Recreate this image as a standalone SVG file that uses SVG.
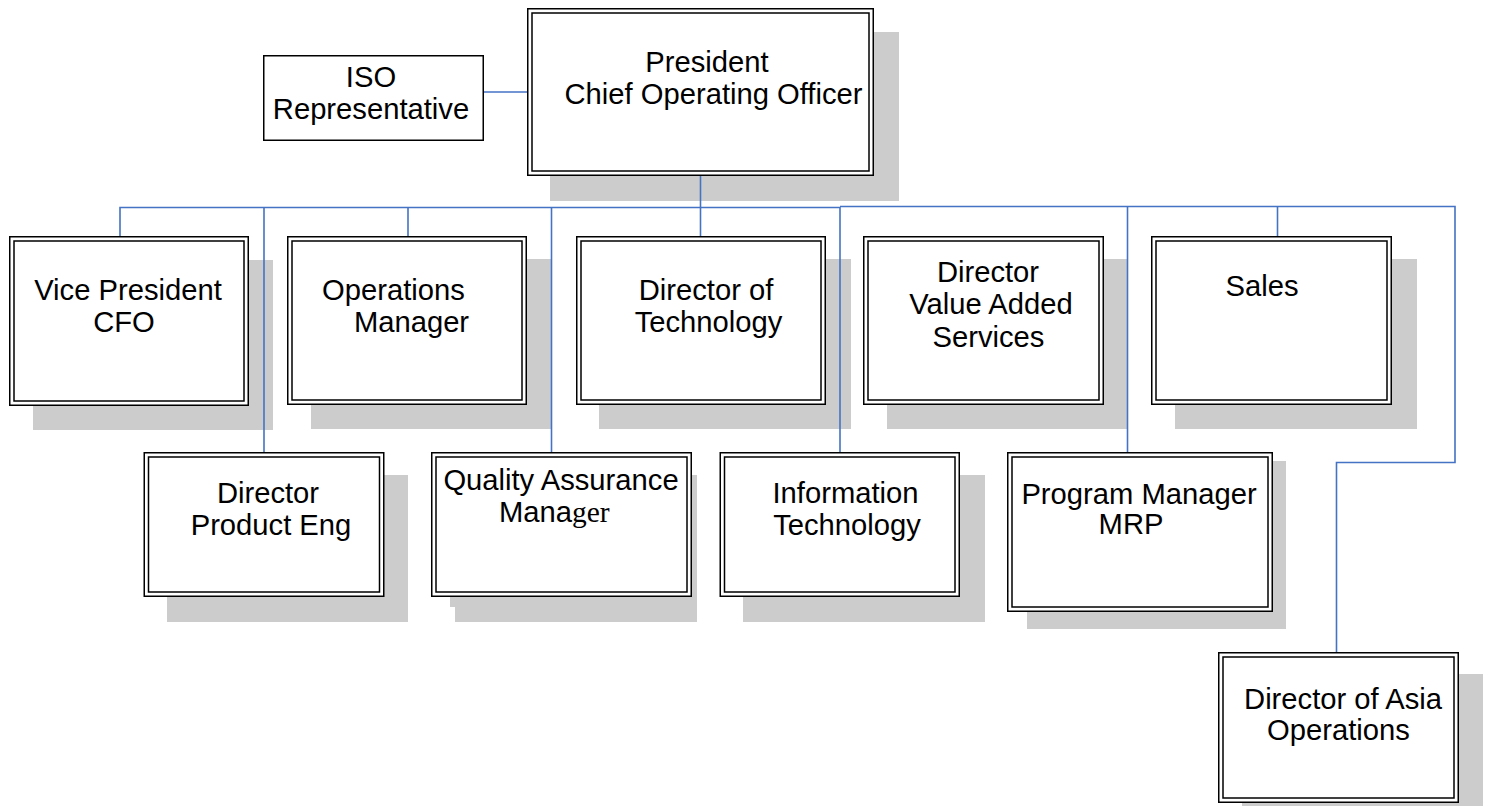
<svg xmlns="http://www.w3.org/2000/svg" width="1491" height="806" viewBox="0 0 1491 806">
  <style>
    .shadow { fill: #cccccc; }
    .outer { fill: #ffffff; stroke: #000000; stroke-width: 1.5; }
    .inner { fill: none; stroke: #000000; stroke-width: 1.5; }
    .single { fill: #ffffff; stroke: #000000; stroke-width: 1.5; }
    .lbl { font-family: "Liberation Sans", Arial, sans-serif; font-size: 29.2px; fill: #000000; text-anchor: middle; }
    .serif { font-family: "Liberation Serif", "Times New Roman", serif; }
    .wire { fill: none; stroke: #4472c4; stroke-width: 1.6; }
  </style>

  <!-- drop shadows sit behind everything -->
  <g id="shadows">
    <rect class="shadow" x="550" y="32" width="349" height="169"/>
    <rect class="shadow" x="33" y="260" width="240" height="170"/>
    <rect class="shadow" x="311" y="259" width="240" height="170"/>
    <rect class="shadow" x="599" y="259" width="252" height="170"/>
    <rect class="shadow" x="887" y="259" width="240" height="170"/>
    <rect class="shadow" x="1175" y="259" width="242" height="170"/>
    <rect class="shadow" x="167" y="475" width="241" height="147"/>
    <rect class="shadow" x="450" y="470" width="241" height="137"/>
    <rect class="shadow" x="455" y="475" width="242" height="147"/>
    <rect class="shadow" x="743" y="475" width="242" height="147"/>
    <rect class="shadow" x="1027" y="461" width="259" height="168"/>
    <rect class="shadow" x="1242" y="674" width="241" height="140"/>
  </g>

  <!-- reporting lines -->
  <g id="connectors">
    <line class="wire" x1="484" y1="92" x2="527" y2="92"/>
    <line class="wire" x1="700.5" y1="176" x2="700.5" y2="236"/>
    <polyline class="wire" points="120,236 120,207.5 840,207.5"/>
    <polyline class="wire" points="840,206.5 1455,206.5 1455,462.5 1336.5,462.5 1336.5,652"/>
    <line class="wire" x1="408" y1="207" x2="408" y2="236"/>
    <line class="wire" x1="1277.5" y1="207" x2="1277.5" y2="236"/>
    <line class="wire" x1="264" y1="207" x2="264" y2="452"/>
    <line class="wire" x1="551.5" y1="207" x2="551.5" y2="452"/>
    <line class="wire" x1="840" y1="207" x2="840" y2="452"/>
    <line class="wire" x1="1127.5" y1="207" x2="1127.5" y2="452"/>
  </g>

  <g id="iso-representative">
    <rect class="single" x="263.75" y="55.75" width="219.5" height="84.5"/>
    <text class="lbl" x="371" y="87">ISO</text>
    <text class="lbl" x="371" y="119">Representative</text>
  </g>

  <g id="president">
    <rect class="outer" x="527.75" y="8.75" width="345.5" height="166.5"/>
    <rect class="inner" x="532" y="13" width="337" height="158"/>
    <text class="lbl" x="707" y="72">President</text>
    <text class="lbl" x="713.5" y="104">Chief Operating Officer</text>
  </g>

  <g id="vice-president">
    <rect class="outer" x="9.75" y="236.75" width="238.5" height="168.5"/>
    <rect class="inner" x="14" y="241" width="230" height="160"/>
    <text class="lbl" x="128" y="300">Vice President</text>
    <text class="lbl" x="124" y="332">CFO</text>
  </g>

  <g id="operations-manager">
    <rect class="outer" x="287.75" y="236.75" width="238.5" height="167.5"/>
    <rect class="inner" x="292" y="241" width="230" height="159"/>
    <text class="lbl" x="393.5" y="300">Operations</text>
    <text class="lbl" x="411.5" y="332">Manager</text>
  </g>

  <g id="director-technology">
    <rect class="outer" x="576.75" y="236.75" width="248.5" height="167.5"/>
    <rect class="inner" x="581" y="241" width="240" height="159"/>
    <text class="lbl" x="706" y="300">Director of</text>
    <text class="lbl" x="708.5" y="332">Technology</text>
  </g>

  <g id="director-value-added">
    <rect class="outer" x="863.75" y="236.75" width="239.5" height="167.5"/>
    <rect class="inner" x="868" y="241" width="231" height="159"/>
    <text class="lbl" x="988" y="282">Director</text>
    <text class="lbl" x="991" y="314">Value Added</text>
    <text class="lbl" x="988.5" y="346.5">Services</text>
  </g>

  <g id="sales">
    <rect class="outer" x="1151.75" y="236.75" width="239.5" height="167.5"/>
    <rect class="inner" x="1156" y="241" width="231" height="159"/>
    <text class="lbl" x="1262" y="296">Sales</text>
  </g>

  <g id="director-product-eng">
    <rect class="outer" x="144.25" y="452.75" width="239.5" height="143.5"/>
    <rect class="inner" x="148.5" y="457" width="231" height="135"/>
    <text class="lbl" x="268" y="503">Director</text>
    <text class="lbl" x="271" y="535">Product Eng</text>
  </g>

  <g id="quality-assurance">
    <rect class="outer" x="431.75" y="452.75" width="259.5" height="143.5"/>
    <rect class="inner" x="436" y="457" width="251" height="135"/>
    <text class="lbl" x="561" y="490">Quality Assurance</text>
    <text class="lbl" x="499" y="522" style="text-anchor:start">Mana<tspan class="serif" font-size="29.5">ger</tspan></text>
  </g>

  <g id="information-technology">
    <rect class="outer" x="720.25" y="452.75" width="239" height="143.5"/>
    <rect class="inner" x="724.5" y="457" width="230.5" height="135"/>
    <text class="lbl" x="845.5" y="503">Information</text>
    <text class="lbl" x="847" y="535">Technology</text>
  </g>

  <g id="program-manager">
    <rect class="outer" x="1007.75" y="452.75" width="264.5" height="158.5"/>
    <rect class="inner" x="1012" y="457" width="256" height="150"/>
    <text class="lbl" x="1139" y="504">Program Manager</text>
    <text class="lbl" x="1131" y="534">MRP</text>
  </g>

  <g id="director-asia">
    <rect class="outer" x="1218.75" y="652.75" width="239.5" height="149.5"/>
    <rect class="inner" x="1223" y="657" width="231" height="141"/>
    <text class="lbl" x="1343" y="709">Director of Asia</text>
    <text class="lbl" x="1338.5" y="740">Operations</text>
  </g>
</svg>
